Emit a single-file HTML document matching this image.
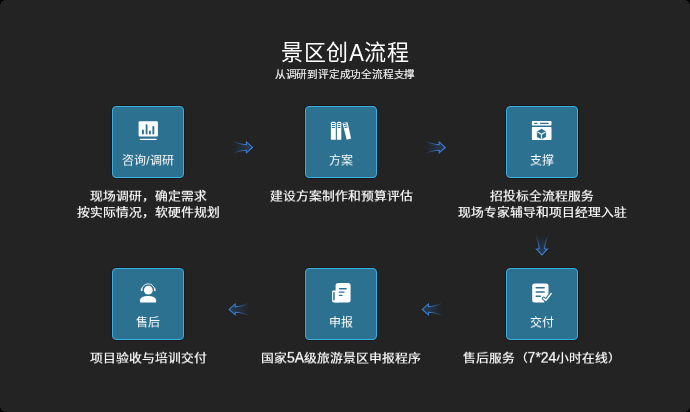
<!DOCTYPE html>
<html lang="zh-CN">
<head>
<meta charset="utf-8">
<style>
html,body{margin:0;padding:0;background:#000;}
body{width:690px;height:412px;overflow:hidden;position:relative;font-family:"Liberation Sans",sans-serif;}
.bg{position:absolute;left:0;top:0;width:690px;height:412px;background:#232323;}
.t{position:absolute;color:#fff;white-space:nowrap;text-align:center;will-change:transform;}
.title{left:245px;width:200px;top:37px;font-size:22px;line-height:32px;letter-spacing:0.5px;text-indent:0.5px;}
.sub{-webkit-text-stroke:0.15px #f2f2f2;left:245px;width:200px;top:67px;font-size:10.6px;line-height:14px;letter-spacing:-0.22px;color:#f2f2f2;}
.box{position:absolute;width:70px;height:70px;border:1px solid #3ab0e2;border-radius:4px;background:#2d7190;box-shadow:0 0 0 1px rgba(0,0,0,0.25);}
.box svg{position:absolute;left:21px;top:9px;width:28px;height:28px;}
.lbl{will-change:transform;transform:scaleY(0.95);transform-origin:50% 20%;position:absolute;left:-20px;width:110px;top:46px;font-size:12px;line-height:16px;color:#fff;text-align:center;white-space:nowrap;}
.desc{-webkit-text-stroke:0.2px #fff;font-size:12.8px;line-height:17.6px;color:#fff;width:220px;transform:scaleY(0.9);transform-origin:50% 0;}
.arr{position:absolute;}
.tA{display:inline-block;transform:translateY(1.6px) scaleY(1.1);transform-origin:50% 80%;}
.lat{display:inline-block;font-size:14px;transform:scaleY(1.12);}
</style>
</head>
<body>
<div class="bg"></div>
<div class="t title">景区创<span class="tA">A</span>流程</div>
<div class="t sub">从调研到评定成功全流程支撑</div>

<!-- row 1 -->
<div class="box" style="left:112px;top:106px;">
<svg viewBox="0 0 28 28">
<rect x="4.6" y="5.3" width="19.3" height="15.1" rx="1" fill="#fff"/>
<rect x="8" y="13.6" width="1.9" height="4.8" rx="0.9" fill="#2d7190"/>
<rect x="11.7" y="8.2" width="1.8" height="10.2" rx="0.9" fill="#2d7190"/>
<rect x="15" y="14.6" width="1.9" height="3.8" rx="0.9" fill="#2d7190"/>
<rect x="18.4" y="9.9" width="1.9" height="8.5" rx="0.9" fill="#2d7190"/>
<rect x="5.8" y="22.8" width="17" height="1.3" rx="0.6" fill="#fff"/>
</svg>
<div class="lbl">咨询/调研</div>
</div>

<div class="box" style="left:305px;top:106px;">
<svg viewBox="0 0 28 28">
<path d="M3.9 7.3 Q3.9 5.8 5.4 5.8 H7.3 Q8.8 5.8 8.8 7.3 V23.8 H3.9 Z" fill="#fff"/>
<path d="M9.9 7.3 Q9.9 5.8 11.4 5.8 H12.8 Q14.3 5.8 14.3 7.3 V23.8 H9.9 Z" fill="#fff"/>
<path d="M15.8 6.9 L19.5 5.9 Q20.3 5.8 20.6 6.6 L24.1 22.4 L19.7 23.8 L15.6 7.5 Z" fill="#fff"/>
<g stroke="#2d7190" stroke-width="1.05" stroke-linecap="round">
<path d="M5.2 7.4 H7.5 M5.2 9.4 H7.5 M5.2 11.5 H7.5"/>
<path d="M11.2 7.4 H13 M11.2 9.4 H13 M11.2 11.5 H13"/>
<path d="M17 7.6 L19.3 7 M17.5 9.6 L19.8 9 M18 11.6 L20.3 11"/>
</g>
</svg>
<div class="lbl">方案</div>
</div>

<div class="box" style="left:506px;top:106px;">
<svg viewBox="0 0 28 28">
<rect x="3.9" y="5.1" width="19.6" height="4.4" rx="0.8" fill="#fff"/>
<rect x="3.9" y="10.9" width="19.6" height="13.2" rx="0.8" fill="#fff"/>
<rect x="6.1" y="6.8" width="3.4" height="1.2" rx="0.6" fill="#2d7190"/>
<rect x="11.9" y="6.8" width="8.8" height="1.2" rx="0.6" fill="#2d7190"/>
<path d="M13.5 12.9 L17.9 15.6 V20.9 L13.5 23.1 L9.1 20.9 V15.6 Z" fill="#2d7190" stroke="#2d7190" stroke-width="0.3" stroke-linejoin="round"/>
<path d="M9.4 15.9 L13.5 18.3 L17.6 15.9 M13.5 18.3 V22.8" stroke="#fff" stroke-width="1.1" fill="none"/>
</svg>
<div class="lbl">支撑</div>
</div>

<!-- row 2 -->
<div class="box" style="left:506px;top:268px;">
<svg viewBox="0 0 28 28">
<rect x="4.2" y="5.5" width="16.3" height="19.1" rx="2.5" fill="#fff"/>
<rect x="7.5" y="9" width="9.4" height="1.4" rx="0.7" fill="#2d7190"/>
<rect x="7.5" y="13.3" width="9.4" height="1.4" rx="0.7" fill="#2d7190"/>
<rect x="7.5" y="17.6" width="5.6" height="1.4" rx="0.7" fill="#2d7190"/>
<path d="M15.2 20.4 L18 22.9 L23.6 15.3 L25 15.3 L25 26 L17 26 Z" fill="#2d7190"/>
<path d="M15.6 20.4 L18 22.3 L23.1 15.6" stroke="#2d7190" stroke-width="3.6" fill="none" stroke-linecap="round" stroke-linejoin="round"/>
<path d="M15.6 20.4 L18 22.3 L23.1 15.6" stroke="#fff" stroke-width="1.5" fill="none" stroke-linecap="round" stroke-linejoin="round"/>
</svg>
<div class="lbl">交付</div>
</div>

<div class="box" style="left:305px;top:268px;">
<svg viewBox="0 0 28 28">
<path d="M5.1 13.8 Q5.1 12.6 6.3 12.6 H9 V24.6 H7.1 Q5.1 24.6 5.1 22.6 Z" fill="#fff"/>
<rect x="8.4" y="20" width="3" height="4.6" fill="#fff"/>
<rect x="6.2" y="13.9" width="1.5" height="8.5" rx="0.75" fill="#2d7190"/>
<rect x="8.6" y="5.1" width="15" height="19.5" rx="2.5" fill="#fff"/>
<rect x="11.8" y="10.1" width="8" height="1.4" rx="0.7" fill="#2d7190"/>
<rect x="11.8" y="13.6" width="5.9" height="1.2" rx="0.6" fill="#2d7190"/>
<rect x="11.8" y="16.8" width="3.8" height="1.2" rx="0.6" fill="#2d7190"/>
</svg>
<div class="lbl">申报</div>
</div>

<div class="box" style="left:112px;top:268px;">
<svg viewBox="0 0 28 28">
<path d="M7.6 12.6 A6.6 6.8 0 0 1 20.8 12.6" stroke="#fff" stroke-width="0.9" fill="none"/>
<rect x="6.85" y="10.3" width="1.5" height="2.9" rx="0.75" fill="#fff"/>
<rect x="20.05" y="10.3" width="1.5" height="2.9" rx="0.75" fill="#fff"/>
<circle cx="14.3" cy="12.2" r="4.4" fill="#fff"/>
<path d="M6 24.4 V22.5 Q6 18 14.05 18 Q22.1 18 22.1 22.5 V24.4 Z" fill="#fff"/>
</svg>
<div class="lbl">售后</div>
</div>

<!-- descriptions -->
<div class="t desc" style="left:38px;top:188px;">现场调研，确定需求<br>按实际情况，软硬件规划</div>
<div class="t desc" style="left:231px;top:188px;">建设方案制作和预算评估</div>
<div class="t desc" style="left:432px;top:188px;">招投标全流程服务<br>现场专家辅导和项目经理入驻</div>
<div class="t desc" style="left:38px;top:350px;">项目验收与培训交付</div>
<div class="t desc" style="left:231px;top:350px;">国家<span class="lat">5A</span>级旅游景区申报程序</div>
<div class="t desc" style="left:432px;top:350px;">售后服务（<span class="lat">7*24</span>小时在线）</div>

<!-- arrows -->
<svg class="arr" style="left:0;top:0;" width="690" height="412" viewBox="0 0 690 412">
<defs>
<linearGradient id="gs" x1="0" y1="0" x2="1" y2="0">
<stop offset="0" stop-color="#3a7bcf" stop-opacity="0.05"/>
<stop offset="0.35" stop-color="#3a7bcf" stop-opacity="0.55"/>
<stop offset="0.68" stop-color="#3d80d6" stop-opacity="0.95"/>
<stop offset="1" stop-color="#3f84dc"/>
</linearGradient>
<linearGradient id="gf" x1="0" y1="0" x2="1" y2="0">
<stop offset="0" stop-color="#24466e" stop-opacity="0"/>
<stop offset="0.6" stop-color="#24466e" stop-opacity="0.45"/>
<stop offset="1" stop-color="#2a5080" stop-opacity="0.6"/>
</linearGradient>

</defs>
<path transform="translate(232.2,140)" d="M0.6 1.2 Q8.5 4.6 14.2 4.6 L14.2 1.9 L20.3 7.4 L14.2 12.9 L14.2 10.2 Q8.5 10.2 0.6 13.4" fill="url(#gf)" stroke="url(#gs)" stroke-width="1.05" stroke-linejoin="miter"/>
<path transform="translate(425,140)" d="M0.6 1.2 Q8.5 4.6 14.2 4.6 L14.2 1.9 L20.3 7.4 L14.2 12.9 L14.2 10.2 Q8.5 10.2 0.6 13.4" fill="url(#gf)" stroke="url(#gs)" stroke-width="1.05" stroke-linejoin="miter"/>
<path transform="translate(549.3,234.7) rotate(90)" d="M0.6 1.2 Q8.5 4.6 14.2 4.6 L14.2 1.9 L20.3 7.4 L14.2 12.9 L14.2 10.2 Q8.5 10.2 0.6 13.4" fill="url(#gf)" stroke="url(#gs)" stroke-width="1.05" stroke-linejoin="miter"/>
<path transform="translate(442.6,302) scale(-1,1)" d="M0.6 1.2 Q8.5 4.6 14.2 4.6 L14.2 1.9 L20.3 7.4 L14.2 12.9 L14.2 10.2 Q8.5 10.2 0.6 13.4" fill="url(#gf)" stroke="url(#gs)" stroke-width="1.05" stroke-linejoin="miter"/>
<path transform="translate(249.4,302) scale(-1,1)" d="M0.6 1.2 Q8.5 4.6 14.2 4.6 L14.2 1.9 L20.3 7.4 L14.2 12.9 L14.2 10.2 Q8.5 10.2 0.6 13.4" fill="url(#gf)" stroke="url(#gs)" stroke-width="1.05" stroke-linejoin="miter"/>
</svg>
<svg style="position:absolute;left:0;top:0;" width="690" height="412" viewBox="0 0 690 412"><g fill="#000">
<path d="M0 0H4V1H2V2H1V4H0Z"/>
<path d="M690 0H686V1H688V2H689V4H690Z"/>
<path d="M0 412H4V411H2V410H1V408H0Z"/>
<path d="M690 412H686V411H688V410H689V408H690Z"/>
</g></svg>
</body>
</html>
